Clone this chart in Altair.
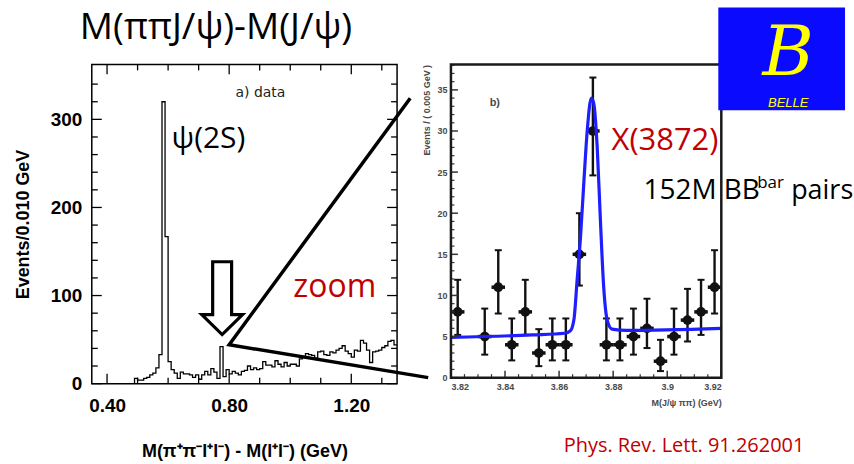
import altair as alt
import pandas as pd

# ---------------- left panel: M(pi+ pi- l+ l-) - M(l+ l-) ----------------
hist_first_edge = 0.49
hist_bin_width = 0.01
hist_counts = [6, 4, 4, 6, 7, 10, 12, 18, 33, 320,
               167, 25, 16, 12, 6, 13, 11, 11, 10, 7,
               10, 5, 10, 14, 10, 17, 13, 6, 42, 8,
               16, 11, 14, 12, 10, 14, 15, 20, 16, 18,
               16, 17, 25, 21, 21, 19, 26, 22, 19, 24,
               20, 22, 22, 20, 28, 30, 34, 33, 32, 29,
               36, 37, 33, 32, 36, 35, 38, 40, 43, 37,
               34, 30, 38, 37, 49, 46, 38, 24, 36, 37,
               38, 41, 43, 48, 49, 44]
left_x_labels = [0.4, 0.8, 1.2]
left_x_minor = [0.5, 0.6, 0.7, 0.9, 1.0, 1.1, 1.3]
left_y_labels = [0, 100, 200, 300]
left_y_minor = [20, 40, 60, 80, 120, 140, 160, 180, 220, 240, 260, 280, 320, 340]
arrow_at = [0.777, 97]                 # hollow arrow pointing at the X(3872) bin
zoom_x = [1.393, 0.80, 1.452]          # zoom lines (left-panel data units)
zoom_y = [324, 44.2, 6.8]

# ---------------- right panel: M(J/psi pi pi) ----------------
pt_x = [3.8225, 3.8325, 3.8375, 3.8425, 3.8475, 3.8525, 3.8575, 3.8625, 3.8675, 3.8725,
        3.8775, 3.8825, 3.8875, 3.8925, 3.8975, 3.9025, 3.9075, 3.9125, 3.9175]
pt_n = [8, 5, 11, 4, 8, 3, 4, 4, 15, 30, 4, 4, 5, 6, 2, 5, 7, 8, 11]
pt_lo = [5.2, 2.8, 7.8, 2.1, 5.2, 1.4, 2.1, 2.1, 11.2, 24.6, 2.1, 2.1, 2.8, 3.6, 0.8, 2.8, 4.4, 5.2, 7.8]
pt_hi = [11.9, 8.4, 15.5, 7.2, 11.9, 5.9, 7.2, 7.2, 20.0, 36.5, 7.2, 7.2, 8.4, 9.6, 4.6, 8.4, 10.8, 11.9, 15.5]
bin_half = 0.0025
fit_x = [3.820, 3.850, 3.862, 3.8642, 3.8655, 3.8667, 3.8679, 3.8692, 3.8704, 3.8719,
         3.8728, 3.8741, 3.8753, 3.8765, 3.8778, 3.8796, 3.885, 3.920]
fit_y = [4.9, 5.2, 5.4, 5.7, 7.1, 12.0, 17.0, 24.0, 30.0, 34.0,
         33.4, 28.0, 19.0, 11.0, 7.0, 5.9, 5.75, 6.0]
right_x_labels = [3.82, 3.84, 3.86, 3.88, 3.9, 3.92]
right_x_minor = [round(3.82 + 0.005 * i, 3) for i in range(21) if i % 4 != 0]
right_y_labels = [0, 5, 10, 15, 20, 25, 30, 35]
right_y_minor = [v for v in range(1, 39) if v % 5 != 0]

W1, H1 = 306, 320
W2, H2 = 271, 314
RED = "#c00000"
SLIDE = "Open Sans"
GRAY = "#4a4a4a"

one = pd.DataFrame({"k": [0]})

# shared scales and axes (the same objects are used in every layer)
xs1 = alt.Scale(domain=[0.35, 1.35], nice=False, zero=False)
ys1 = alt.Scale(domain=[0, 362.4], nice=False, zero=False)
ax1x = alt.Axis(
    values=left_x_labels, format=".2f", ticks=False, domain=False, grid=False,
    labelFont="Liberation Sans", labelFontWeight="bold", labelFontSize=19,
    labelColor="black", labelPadding=13,
    title="M(π⁺π⁻l⁺l⁻) - M(l⁺l⁻) (GeV)", titleFont="Liberation Sans",
    titleFontWeight="bold", titleFontSize=18, titleColor="black", titlePadding=27)
ax1y = alt.Axis(
    values=left_y_labels, ticks=False, domain=False, grid=False,
    labelFont="Liberation Sans", labelFontWeight="bold", labelFontSize=19,
    labelColor="black", labelPadding=10,
    title="Events/0.010 GeV", titleFont="Liberation Sans",
    titleFontWeight="bold", titleFontSize=18, titleColor="black", titlePadding=18)

xs2 = alt.Scale(domain=[3.82, 3.92], nice=False, zero=False)
ys2 = alt.Scale(domain=[0, 38.1], nice=False, zero=False)
ax2x = alt.Axis(
    values=right_x_labels, format=".2~f", ticks=False, domain=False, grid=False,
    labelFont="Liberation Sans", labelFontWeight="bold", labelFontSize=9,
    labelColor=GRAY, labelPadding=5,
    title="M(J/ψ ππ) (GeV)", titleFont="Liberation Sans", titleFontWeight="bold",
    titleFontSize=9, titleColor=GRAY, titleAnchor="end", titlePadding=7)
ax2y = alt.Axis(
    values=right_y_labels, ticks=False, domain=False, grid=False,
    labelFont="Liberation Sans", labelFontWeight="bold", labelFontSize=9,
    labelColor=GRAY, labelPadding=4,
    title="Events / ( 0.005 GeV )", titleFont="Liberation Sans", titleFontWeight="bold",
    titleFontSize=9, titleColor=GRAY, titleAnchor="end", titlePadding=5)


def label(text, x, y, size, color="black", font=SLIDE, align="left",
          baseline="alphabetic", weight="normal", style="normal", angle=0):
    return alt.Chart(one).mark_text(
        text=text, fontSize=size, color=color, font=font, align=align,
        baseline=baseline, fontWeight=weight, fontStyle=style, angle=angle
    ).encode(x=alt.value(x), y=alt.value(y))


def xticks(vals, length, H, scale, axis, color, width, top=True):
    df = pd.DataFrame({"v": vals})
    base = alt.Chart(df).mark_rule(color=color, strokeWidth=width)
    layers = [base.encode(x=alt.X("v:Q", scale=scale, axis=axis),
                          y=alt.value(H), y2=alt.value(H - length))]
    if top:
        layers.append(base.encode(x=alt.X("v:Q", scale=scale, axis=axis),
                                  y=alt.value(0), y2=alt.value(length)))
    return layers


def yticks(vals, length, W, scale, axis, color, width, right=True):
    df = pd.DataFrame({"v": vals})
    base = alt.Chart(df).mark_rule(color=color, strokeWidth=width)
    layers = [base.encode(y=alt.Y("v:Q", scale=scale, axis=axis),
                          x=alt.value(0), x2=alt.value(length))]
    if right:
        layers.append(base.encode(y=alt.Y("v:Q", scale=scale, axis=axis),
                                  x=alt.value(W), x2=alt.value(W - length)))
    return layers


# ---------------- build left panel ----------------
edges = [round(hist_first_edge + hist_bin_width * i, 2) for i in range(len(hist_counts) + 1)]
step_df = pd.DataFrame({
    "x": [edges[0]] + edges,
    "y": [0] + hist_counts + [hist_counts[-1]],
})
step_df["o"] = range(len(step_df))

hist = alt.Chart(step_df).mark_line(
    interpolate="step-after", color="black", strokeWidth=1.3
).encode(
    x=alt.X("x:Q", scale=xs1, axis=ax1x),
    y=alt.Y("y:Q", scale=ys1, axis=ax1y),
    order="o:Q",
)

zoom_df = pd.DataFrame({"x": zoom_x, "y": zoom_y, "o": [0, 1, 2]})
zoom_lines = alt.Chart(zoom_df).mark_line(
    color="black", strokeWidth=3.5, clip=False, strokeJoin="miter"
).encode(
    x=alt.X("x:Q", scale=xs1, axis=ax1x),
    y=alt.Y("y:Q", scale=ys1, axis=ax1y),
    order="o:Q",
)

arrow_shape = "M-0.26,-1L0.26,-1L0.26,0.45L0.56,0.45L0,1L-0.56,0.45L-0.26,0.45Z"
arrow = alt.Chart(pd.DataFrame({"x": [arrow_at[0]], "y": [arrow_at[1]]})).mark_point(
    shape=arrow_shape, size=5330, filled=False, color="black", strokeWidth=3.2, opacity=1
).encode(
    x=alt.X("x:Q", scale=xs1, axis=ax1x),
    y=alt.Y("y:Q", scale=ys1, axis=ax1y),
)

frame1 = alt.Chart(one).mark_rect(fill="transparent", stroke="black", strokeWidth=1.5).encode(
    x=alt.value(0), x2=alt.value(W1), y=alt.value(0), y2=alt.value(H1))

anchor = alt.Chart(one).mark_rule(strokeOpacity=0, strokeWidth=1).encode(
    x=alt.value(-91.5), x2=alt.value(-90), y=alt.value(-63.5), y2=alt.value(-62))

left_layers = [hist]
left_layers += xticks(left_x_labels, 10, H1, xs1, ax1x, "black", 1.3)
left_layers += xticks(left_x_minor, 6, H1, xs1, ax1x, "black", 1.3)
left_layers += yticks(left_y_labels, 10, W1, ys1, ax1y, "black", 1.3)
left_layers += yticks(left_y_minor, 6, W1, ys1, ax1y, "black", 1.3)
left_layers += [
    frame1,
    anchor,
    label("a) data", 169, 29, 14, color="#222", font="DejaVu Sans", align="center", baseline="middle"),
    label("ψ(2S)", 80, 84, 30),
    label("zoom", 202, 233, 32, color=RED),
    label("M(ππJ/ψ)-M(J/ψ)", -12, -25, 37),
    arrow,
    zoom_lines,
]
left = alt.layer(*left_layers).properties(width=W1, height=H1)

# ---------------- build right panel ----------------
pts = pd.DataFrame({"x": pt_x, "n": pt_n, "lo": pt_lo, "hi": pt_hi})
pts["xl"] = pts["x"] - bin_half
pts["xr"] = pts["x"] + bin_half

vbar = alt.Chart(pts).mark_rule(color="#111", strokeWidth=2.4).encode(
    x=alt.X("x:Q", scale=xs2, axis=ax2x),
    y=alt.Y("lo:Q", scale=ys2, axis=ax2y),
    y2="hi:Q",
)
cap_hi = alt.Chart(pts).mark_rule(color="#111", strokeWidth=2, xOffset=-3.5, x2Offset=3.5).encode(
    x=alt.X("x:Q", scale=xs2, axis=ax2x), x2="x:Q",
    y=alt.Y("hi:Q", scale=ys2, axis=ax2y))
cap_lo = alt.Chart(pts).mark_rule(color="#111", strokeWidth=2, xOffset=-3.5, x2Offset=3.5).encode(
    x=alt.X("x:Q", scale=xs2, axis=ax2x), x2="x:Q",
    y=alt.Y("lo:Q", scale=ys2, axis=ax2y))
hbar = alt.Chart(pts).mark_rule(color="#111", strokeWidth=3.5).encode(
    x=alt.X("xl:Q", scale=xs2, axis=ax2x), x2="xr:Q",
    y=alt.Y("n:Q", scale=ys2, axis=ax2y))
dots = alt.Chart(pts).mark_point(filled=True, color="#111", size=95, opacity=1).encode(
    x=alt.X("x:Q", scale=xs2, axis=ax2x),
    y=alt.Y("n:Q", scale=ys2, axis=ax2y))

fit_df = pd.DataFrame({"x": fit_x, "y": fit_y})
fit = alt.Chart(fit_df).mark_line(interpolate="monotone", color="#1e1eff", strokeWidth=3.2).encode(
    x=alt.X("x:Q", scale=xs2, axis=ax2x),
    y=alt.Y("y:Q", scale=ys2, axis=ax2y))

frame2 = alt.Chart(one).mark_rect(fill="transparent", stroke="#1a1a1a", strokeWidth=2.5).encode(
    x=alt.value(0), x2=alt.value(W2), y=alt.value(0), y2=alt.value(H2))

logo = alt.Chart(one).mark_rect(color="#0a0aff").encode(
    x=alt.value(268), x2=alt.value(395), y=alt.value(-57), y2=alt.value(46))

right_layers = [vbar, cap_hi, cap_lo, hbar, dots, fit]
right_layers += xticks(right_x_labels, 7, H2, xs2, ax2x, "#333", 1.5, top=False)
right_layers += xticks(right_x_minor, 3.5, H2, xs2, ax2x, "#333", 1.2, top=False)
right_layers += yticks(right_y_labels, 7, W2, ys2, ax2y, "#333", 1.5, right=False)
right_layers += yticks(right_y_minor, 3.5, W2, ys2, ax2y, "#333", 1.2, right=False)
right_layers += [
    frame2,
    label("b)", 44, 39, 11, color=GRAY, font="Liberation Sans", align="center",
          baseline="middle", weight="bold"),
    label("X(3872)", 161, 86, 31, color=RED),
    label("152M BB", 193, 135, 28),
    label("bar", 307, 124, 17),
    label("pairs", 341, 135, 27),
    label("Phys. Rev. Lett. 91.262001", 113, 389, 20, color=RED),
    logo,
    label("B", 338, 26, 70, color="#ffff00", font="DejaVu Serif", align="center",
          baseline="bottom", style="italic"),
    label("BELLE", 338, 43, 13, color="#ffff00", font="Liberation Sans", align="center", style="italic"),
]
right = alt.layer(*right_layers).properties(width=W2, height=H2)

chart = alt.hconcat(left, right, spacing=54, bounds="flush").properties(
    padding=0, background="white"
).configure_view(strokeWidth=0)

chart.save("out.html", embed_options={"renderer": "svg", "actions": False})
